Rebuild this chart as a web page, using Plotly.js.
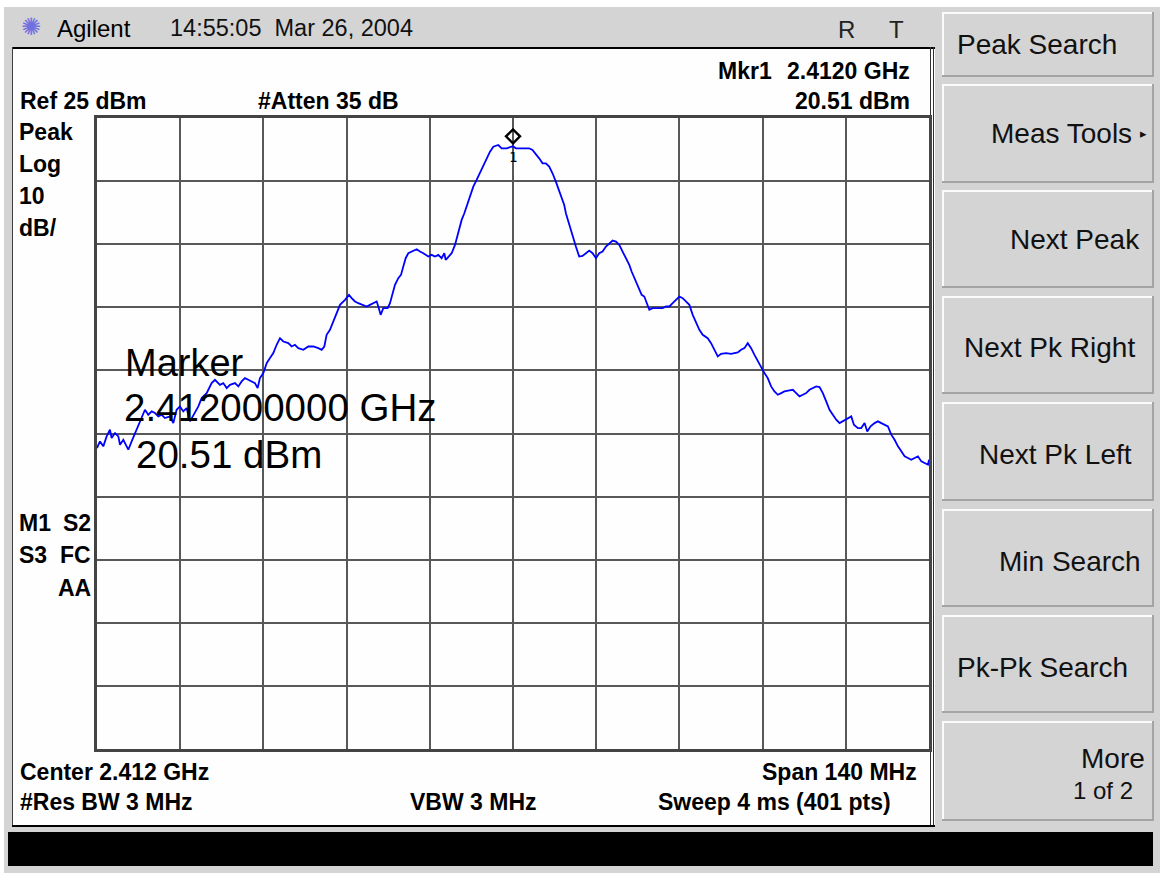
<!DOCTYPE html>
<html><head><meta charset="utf-8">
<script src="https://cdn.plot.ly/plotly-3.0.1.min.js"></script>
<style>html,body{margin:0;padding:0;background:#fff;overflow:hidden}#chart{width:1160px;height:873px}</style>
</head><body><div id="chart"></div>
<script>
// ---------------- DATA ----------------
const freqMHz = [
2342.00,2342.50,2343.06,2343.62,2344.18,2344.46,2345.03,2345.59,2345.87,2346.43,
2346.99,2347.27,2347.83,2348.39,2348.95,2349.51,2350.07,2350.63,2351.20,2351.76,
2352.32,2352.88,2353.44,2354.28,2354.84,2355.40,2355.96,2356.52,2357.08,2357.65,
2358.21,2359.05,2359.61,2360.45,2361.29,2361.85,2362.69,2363.25,2363.82,2364.38,
2365.22,2365.78,2366.34,2366.90,2367.46,2368.02,2368.58,2369.03,2369.42,2369.99,
2370.55,2371.11,2371.67,2372.23,2372.79,2373.35,2374.19,2374.75,2375.31,2375.87,
2376.72,2377.56,2378.40,2379.24,2379.80,2380.25,2380.64,2381.20,2381.76,2382.33,
2382.89,2383.73,2384.40,2384.85,2385.41,2385.97,2386.53,2387.37,2387.93,2388.49,
2389.06,2389.34,2389.73,2390.18,2390.91,2391.30,2391.69,2392.14,2392.70,2393.15,
2393.54,2393.94,2394.38,2394.95,2395.79,2396.35,2396.91,2397.75,2398.31,2398.87,
2399.43,2399.99,2400.44,2400.67,2401.12,2401.68,2402.24,2402.80,2403.36,2403.81,
2404.20,2404.76,2405.32,2405.88,2406.44,2407.00,2407.57,2408.13,2408.69,2409.53,
2410.09,2410.93,2411.77,2412.00,
2412.47,2414.72,2415.28,2415.84,2416.40,2416.97,2417.53,2418.09,2418.65,2419.21,
2419.77,2420.33,2420.62,2420.90,2421.46,2422.02,2422.58,2423.14,2423.70,2424.27,
2424.83,2425.39,2425.95,2426.51,2427.07,2427.64,2428.20,2428.76,2429.32,2429.88,
2430.44,2431.01,2431.57,2431.96,2432.52,2433.08,2433.65,2434.09,2434.54,2434.94,
2435.50,2436.34,2437.18,2437.74,2438.31,2438.87,2439.43,2439.99,2440.55,2441.11,
2441.68,2442.24,2442.80,2443.36,2443.92,2444.76,2445.33,2445.89,2446.45,2447.01,
2447.85,2448.70,2449.26,2449.82,2450.38,2450.94,2451.50,2452.07,2452.63,2453.19,
2453.75,2454.31,2454.87,2455.43,2456.00,2456.56,2457.12,2457.68,2458.52,2459.09,
2459.65,2460.21,2460.77,2461.33,2461.89,2462.46,2463.02,2463.58,2464.14,2464.70,
2465.26,2465.82,2466.39,2466.95,2467.51,2468.07,2468.63,2468.92,2469.36,2470.04,
2470.60,2471.16,2471.61,2472.17,2472.84,2473.41,2473.97,2474.53,2475.09,2475.65,
2476.21,2476.78,2477.34,2477.90,2478.46,2479.02,2479.58,2480.14,2480.71,2481.27,
2481.83,2482.00];
const ampDbm = [
-27.30,-26.25,-27.04,-25.46,-24.40,-25.72,-24.93,-25.46,-26.78,-25.99,
-27.04,-27.57,-26.25,-24.93,-23.61,-22.29,-21.24,-22.03,-21.50,-21.76,
-22.29,-22.03,-22.55,-22.29,-23.35,-21.24,-20.71,-21.50,-20.97,-23.08,
-22.03,-20.71,-19.39,-18.60,-17.01,-16.49,-17.28,-17.01,-17.80,-17.28,
-17.01,-17.54,-16.75,-16.22,-16.49,-16.75,-17.01,-17.80,-16.22,-15.43,
-13.85,-13.05,-12.26,-10.94,-9.89,-10.42,-10.68,-11.21,-10.94,-11.47,
-11.73,-11.21,-11.21,-11.47,-11.73,-11.21,-9.36,-8.57,-7.25,-5.93,
-4.61,-3.82,-3.03,-3.55,-4.08,-4.35,-4.61,-4.87,-4.61,-4.35,
-4.08,-4.87,-6.19,-5.14,-5.14,-4.35,-2.76,-1.44,-0.39,0.14,
1.46,2.78,3.57,3.83,4.20,3.83,3.57,3.04,3.31,3.04,
3.31,2.78,3.57,2.52,3.04,3.57,4.89,6.74,8.85,9.90,
10.96,12.54,14.13,15.18,16.24,17.29,18.35,19.67,20.46,20.72,
20.20,20.20,20.46,20.51,
20.20,20.20,19.93,19.30,18.61,17.82,17.82,17.29,16.24,14.92,
13.34,12.02,11.22,9.90,8.06,6.21,4.63,3.04,3.15,3.57,
3.99,3.57,2.78,3.57,3.83,4.63,5.15,5.58,5.42,4.89,
3.83,2.78,1.72,0.67,-0.65,-1.71,-3.03,-3.29,-4.61,-5.40,
-5.14,-5.14,-5.14,-4.87,-4.87,-4.35,-3.82,-3.29,-3.55,-4.08,
-4.61,-6.19,-7.51,-8.57,-9.36,-9.89,-10.68,-11.73,-12.79,-12.37,
-12.26,-12.37,-12.26,-12.16,-11.73,-11.47,-10.68,-11.47,-12.53,-13.58,
-14.37,-15.43,-16.22,-17.54,-18.33,-18.86,-18.60,-18.33,-18.17,-18.07,
-18.60,-19.12,-18.86,-18.60,-18.07,-17.80,-17.54,-17.65,-18.60,-19.92,
-21.24,-22.03,-22.82,-23.35,-23.08,-22.82,-22.55,-22.29,-23.61,-24.14,
-24.14,-23.35,-24.67,-23.87,-23.35,-23.08,-23.35,-23.61,-23.87,-25.19,
-25.99,-27.04,-27.83,-28.62,-28.89,-29.15,-28.89,-28.62,-29.42,-29.68,
-29.95,-29.15];
const markerFreq = [2412.0];
const markerAmp = [20.51];
const markerLabel = ['1'];
const refLevel = 25, dbPerDiv = 10, divisions = 10;
const centerMHz = 2412, spanMHz = 140;

const headerTexts = ['Agilent', '14:55:05\u00a0\u00a0Mar 26, 2004', 'R', 'T'];
const leftInfo = ['Peak', 'Log', '10', 'dB/'];
const statusInfo = [['M1', 'S2'], ['S3', 'FC'], ['', 'AA']];
const topInfo = ['Ref 25 dBm', '#Atten 35 dB', 'Mkr1', '2.4120 GHz', '20.51 dBm'];
const bottomInfo = ['Center 2.412 GHz', 'Span 140 MHz', '#Res BW 3 MHz', 'VBW 3 MHz', 'Sweep 4 ms (401 pts)'];
const markerReadout = ['Marker', '2.412000000 GHz', '20.51 dBm'];
const softkeys = ['Peak Search', 'Meas Tools', 'Next Peak', 'Next Pk Right', 'Next Pk Left', 'Min Search', 'Pk-Pk Search', 'More'];
const softkeySub = '1 of 2';

// ---------------- LAYOUT HELPERS ----------------
const L = 97, T = 118, W = 832, H = 631;
const PX = x => (x - L) / W;
const PY = y => (T + H - y) / H;
const FONT = 'Liberation Sans, Arial, Helvetica, sans-serif';
const shapes = [];
function rect(x0, y0, x1, y1, fill) {
  shapes.push({type: 'rect', xref: 'paper', yref: 'paper', x0: PX(x0), x1: PX(x1), y0: PY(y1), y1: PY(y0),
    fillcolor: fill, line: {width: 0}, layer: 'below'});
}
const annotations = [];
function txt(text, x, y, anchor, size, bold, color, fam) {
  annotations.push({xref: 'paper', yref: 'paper', x: PX(x), y: PY(y), xanchor: anchor, yanchor: 'middle',
    text: text, showarrow: false, borderpad: 0,
    font: {family: fam || FONT, size: size, color: color || '#000', weight: bold ? 'bold' : 'normal'}});
}

// screen chrome
rect(4, 7, 1160, 873, '#d4d4d4');
rect(12, 47, 935, 827, '#fefefe');
rect(12, 47, 935, 49, '#000');
rect(12, 47, 13, 827, '#404040');
rect(930, 47, 931, 827, '#303030');
rect(933, 47, 934, 827, '#303030');
rect(12, 825, 935, 827, '#000');
rect(8, 832, 1153, 866, '#000');

// softkey buttons
const keyBoxes = [[12,77],[84,183],[190,288],[296,394],[402,501],[509,607],[615,713],[721,821]];
const keyText = [[956,'left',44],[1133,'right',134],[1141,'right',240],[963,'left',347],
                 [978,'left',454],[1142,'right',561],[956,'left',667],[1146,'right',758]];
keyBoxes.forEach((b, i) => {
  rect(942, b[0], 1154, b[1], '#d4d4d4');
  rect(942, b[0], 1154, b[0] + 2, '#fbfbfb');
  rect(942, b[0], 944, b[1], '#fbfbfb');
  rect(942, b[1] - 2, 1154, b[1], '#a4a4a4');
  rect(1152, b[0], 1154, b[1], '#a4a4a4');
  txt(softkeys[i], keyText[i][0], keyText[i][2], keyText[i][1], 28, false, '#111');
});
txt('\u25B8', 1139, 134, 'left', 13, false, '#111', 'DejaVu Sans');
txt(softkeySub, 1134, 790, 'right', 24, false, '#111');

// header bar
txt('\u273A', 20, 27, 'left', 24, false, '#7070e0', 'DejaVu Sans');
txt(headerTexts[0], 56, 28, 'left', 24, false, '#000');
txt(headerTexts[1], 169, 28, 'left', 23.5, false, '#111');
txt(headerTexts[2], 837, 29, 'left', 24, false, '#222');
txt(headerTexts[3], 888, 29, 'left', 24, false, '#222');

// info texts (bold)
txt(topInfo[0], 19, 101, 'left', 23, true);
txt(topInfo[1], 257, 101, 'left', 23, true);
txt(topInfo[2], 717, 71, 'left', 23, true);
txt(topInfo[3], 911, 71, 'right', 23, true);
txt(topInfo[4], 911, 101, 'right', 23, true);
leftInfo.forEach((s, i) => txt(s, 18, [132, 164, 196, 228][i], 'left', 23, true));
statusInfo.forEach((p, i) => {
  const y = [523, 555, 588][i];
  if (p[0]) txt(p[0], 18, y, 'left', 23, true);
  txt(p[1], 92, y, 'right', 23, true);
});
txt(bottomInfo[0], 19, 772, 'left', 23, true);
txt(bottomInfo[1], 918, 772, 'right', 23, true);
txt(bottomInfo[2], 19, 802, 'left', 23, true);
txt(bottomInfo[3], 409, 802, 'left', 23, true);
txt(bottomInfo[4], 657, 802, 'left', 23, true);

// marker readout (large)
txt(markerReadout[0], 124, 363, 'left', 38, false);
txt(markerReadout[1], 123, 407, 'left', 38.5, false);
txt(markerReadout[2], 135, 454, 'left', 38.5, false);

// marker diamond + label, anchored to marker data point
shapes.push({type: 'path', xref: 'x', yref: 'y', xsizemode: 'pixel', ysizemode: 'pixel',
  xanchor: markerFreq[0], yanchor: markerAmp[0],
  path: 'M0,3 L7,10 L0,17 L-7,10 Z', line: {color: '#000', width: 2.4}, fillcolor: 'rgba(0,0,0,0)', layer: 'above'});
annotations.push({xref: 'x', yref: 'y', x: markerFreq[0], y: markerAmp[0], yshift: -11, showarrow: false,
  text: markerLabel[0], font: {family: 'DejaVu Sans Mono', size: 14, color: '#000'}});

const xMin = centerMHz - spanMHz / 2, xMax = centerMHz + spanMHz / 2;
const yMax = refLevel, yMin = refLevel - dbPerDiv * divisions;

const traces = [
  {x: freqMHz, y: ampDbm, type: 'scatter', mode: 'lines', line: {color: '#0000ff', width: 1.8},
   hoverinfo: 'x+y', showlegend: false, cliponaxis: true}
];

const layout = {
  width: 1160, height: 873,
  margin: {l: L, r: 1160 - L - W, t: T, b: 873 - T - H, pad: 0},
  paper_bgcolor: '#ffffff', plot_bgcolor: 'rgba(0,0,0,0)',
  showlegend: false,
  xaxis: {range: [xMin, xMax], tick0: xMin, dtick: spanMHz / divisions, showticklabels: false, ticks: '',
    showgrid: true, gridcolor: '#585858', gridwidth: 2, zeroline: false,
    showline: true, mirror: true, linecolor: '#444', linewidth: 3, fixedrange: true},
  yaxis: {range: [yMin, yMax], tick0: yMin, dtick: dbPerDiv, showticklabels: false, ticks: '',
    showgrid: true, gridcolor: '#585858', gridwidth: 2, zeroline: false,
    showline: true, mirror: true, linecolor: '#444', linewidth: 3, fixedrange: true},
  shapes: shapes, annotations: annotations,
  font: {family: FONT}
};
Plotly.newPlot('chart', traces, layout, {displayModeBar: false, staticPlot: true});
</script></body></html>
